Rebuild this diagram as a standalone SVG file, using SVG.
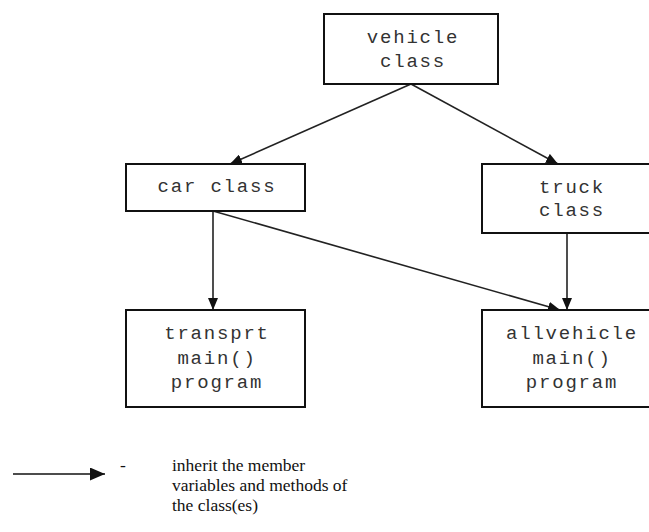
<svg xmlns="http://www.w3.org/2000/svg" width="649" height="532" viewBox="0 0 649 532">
<style>
.box{fill:#fff;stroke:#111;stroke-width:2}
.t{font-family:"Liberation Mono","Courier New",monospace;font-size:19px;letter-spacing:1.8px;fill:#333;text-anchor:middle}
.c{stroke:#222;stroke-width:1.6;fill:none;marker-end:url(#ah)}
.lg{font-family:"Liberation Serif","Times New Roman",serif;font-size:17.5px;fill:#111}
</style>
<defs>
<marker id="ah" viewBox="0 0 12 10" refX="12" refY="5" markerWidth="12" markerHeight="10" markerUnits="userSpaceOnUse" orient="auto">
<path d="M0,0 L12,5 L0,10 z" fill="#111"/>
</marker>
<marker id="ahl" viewBox="0 0 15 13" refX="15" refY="6.5" markerWidth="15" markerHeight="13" markerUnits="userSpaceOnUse" orient="auto">
<path d="M0,0 L15,6.5 L0,13 z" fill="#111"/>
</marker>
</defs>
<g id="connectors">
<line class="c" x1="411" y1="84" x2="230" y2="164"/>
<line class="c" x1="411" y1="84" x2="558" y2="164"/>
<line class="c" x1="213" y1="211" x2="213" y2="310"/>
<line class="c" x1="213" y1="211" x2="560" y2="310"/>
<line class="c" x1="567" y1="233" x2="567" y2="310"/>
</g>
<g id="vehicle">
<rect class="box" x="324" y="14" width="174" height="70"/>
<text class="t" x="413" y="43">vehicle</text>
<text class="t" x="413" y="67">class</text>
</g>
<g id="car">
<rect class="box" x="126" y="164" width="179" height="47"/>
<text class="t" x="217" y="192">car class</text>
</g>
<g id="truck">
<rect class="box" x="482" y="164" width="179" height="69"/>
<text class="t" x="572" y="193">truck</text>
<text class="t" x="572" y="216">class</text>
</g>
<g id="transprt">
<rect class="box" x="126" y="310" width="179" height="97"/>
<text class="t" x="217" y="339">transprt</text>
<text class="t" x="217" y="364">main()</text>
<text class="t" x="217" y="388">program</text>
</g>
<g id="allvehicle">
<rect class="box" x="482" y="310" width="179" height="97"/>
<text class="t" x="572" y="339">allvehicle</text>
<text class="t" x="572" y="364">main()</text>
<text class="t" x="572" y="388">program</text>
</g>
<g id="legend">
<line x1="13" y1="474" x2="105" y2="474" stroke="#111" stroke-width="1.6" marker-end="url(#ahl)"/>
<text class="lg" x="120" y="471">-</text>
<text class="lg" x="172" y="471">inherit the member</text>
<text class="lg" x="172" y="491">variables and methods of</text>
<text class="lg" x="172" y="511">the class(es)</text>
</g>
</svg>
